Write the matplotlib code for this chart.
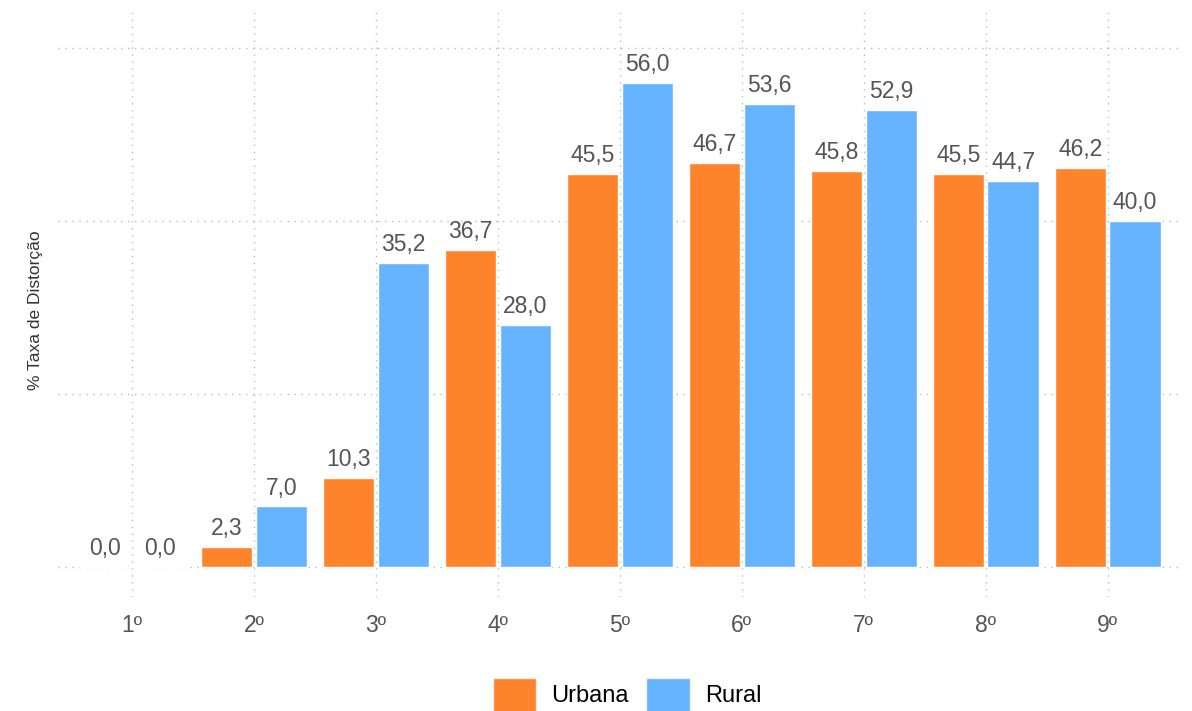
import numpy as np
import matplotlib.pyplot as plt

plt.rcParams['font.family'] = ['Liberation Sans', 'DejaVu Sans']

series_anos = ['1º', '2º', '3º', '4º', '5º', '6º', '7º', '8º', '9º']
urbana = [0.0, 2.3, 10.3, 36.7, 45.5, 46.7, 45.8, 45.5, 46.2]
rural = [0.0, 7.0, 35.2, 28.0, 56.0, 53.6, 52.9, 44.7, 40.0]

cor_urbana = '#FF832B'
cor_rural = '#66B3FF'
cinza = '#555555'

fig = plt.figure(figsize=(11.92, 7.11), dpi=100)
ax = fig.add_axes([0.0487, 0.160, 0.9393, 0.823])

x = np.arange(1, len(series_anos) + 1)
w = 0.42
off = 0.225

b1 = ax.bar(x - off, urbana, w, color=cor_urbana, edgecolor='white', linewidth=1, label='Urbana', zorder=2)
b2 = ax.bar(x + off, rural, w, color=cor_rural, edgecolor='white', linewidth=1, label='Rural', zorder=2)

# value labels, comma as decimal mark
for bars, vals in ((b1, urbana), (b2, rural)):
    for rect, v in zip(bars, vals):
        ax.annotate(f'{v:.1f}'.replace('.', ','),
                    (rect.get_x() + rect.get_width() / 2, v),
                    xytext=(0, 5), textcoords='offset points',
                    ha='center', va='bottom', fontsize=16.5, color=cinza)

ax.set_xlim(0.393, 9.575)
ax.set_ylim(-3.5, 64.2)
ax.set_xticks(x)
ax.set_xticklabels(series_anos, fontsize=16.5, color=cinza)
ax.set_yticks([0, 20, 40, 60])
ax.set_yticklabels([])
ax.tick_params(length=0, pad=12)
ax.grid(True, linestyle=(0, (1, 4)), color='#bbbbbb', linewidth=1, zorder=0)
for s in ax.spines.values():
    s.set_visible(False)
ax.set_ylabel('% Taxa de Distorção', fontsize=12.5, color='#333333')
ax.yaxis.set_label_coords(-0.0135, 0.49)

leg = fig.legend(loc='lower center', bbox_to_anchor=(0.526, -0.031), ncol=2, frameon=False,
                 fontsize=17, handlelength=1.83, handleheight=1.83, columnspacing=0.75,
                 handletextpad=0.65)
for h in leg.legend_handles:
    h.set_edgecolor('#eeeeee')

fig.savefig('out.png', dpi=100)
